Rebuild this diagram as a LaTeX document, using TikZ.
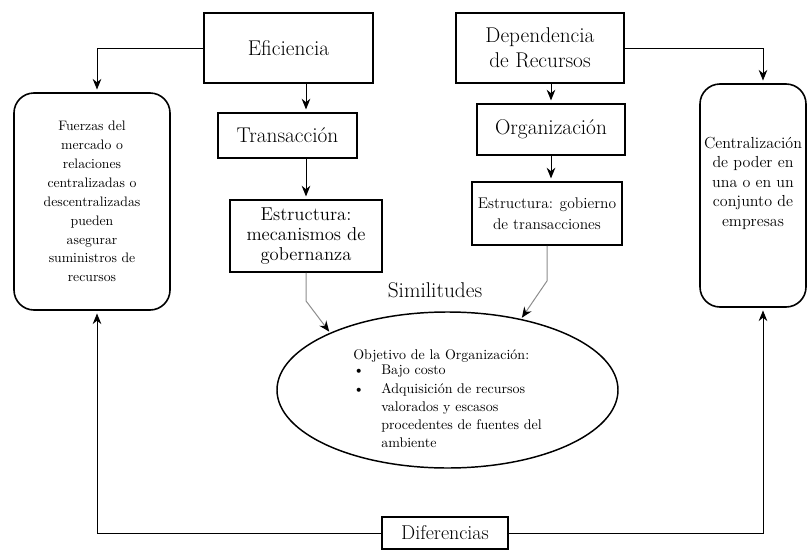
\documentclass[tikz,border=0pt]{standalone}
\usepackage{tikz}
\usetikzlibrary{shapes.geometric,arrows.meta,positioning,calc}

\begin{document}
\begin{tikzpicture}[
    x=0.75pt, y=-0.75pt,
    >={Stealth[length=8pt,width=6.5pt]},
    box/.style={rectangle, draw, line width=1.4pt, inner sep=0pt, align=center},
    roundbox/.style={rectangle, draw, rounded corners=15pt, line width=1.2pt, inner sep=0pt, align=center},
    oval/.style={ellipse, draw, line width=1.1pt, inner sep=0pt},
    arrow/.style={->, line width=0.75pt, shorten >=2pt},
    grayarrow/.style={-{Stealth[length=8pt,width=6.5pt,black]}, draw=black!45, line width=0.75pt, shorten >=1pt},
    big/.style={font=\fontsize{16}{19}\selectfont}
]
\useasboundingbox (0,0) rectangle (808,550);

% Eficiencia branch
\node[box, big, minimum width=126.75pt, minimum height=52.5pt] (eff) at (288.5,48) {Eficiencia};
\node[box, big, minimum width=104.25pt, minimum height=33.75pt] (trans) at (287.5,135.5) {Transacción};
\node[box, font=\fontsize{14}{15.2}\selectfont, minimum width=114pt, minimum height=54pt] (estr1) at (306,236) {Estructura:\\mecanismos de\\gobernanza};

% Dependencia branch
\node[box, big, minimum width=126pt, minimum height=52.5pt] (dep) at (540,48) {Dependencia\\de Recursos};
\node[box, big, minimum width=111pt, minimum height=38.25pt] (org) at (551,129.5) {Organización};
\node[box, font=\fontsize{11.6}{15.5}\selectfont, minimum width=112.5pt, minimum height=47.25pt] (estr2) at (547,213.5) {Estructura: gobierno\\de transacciones};

% Side boxes
\node[roundbox, font=\fontsize{10.3}{14.2}\selectfont, minimum width=117pt, minimum height=162.75pt] (left) at (92,201.5) {Fuerzas del\\mercado o\\relaciones\\centralizadas o\\descentralizadas\\pueden\\asegurar\\suministros de\\recursos};
\node[roundbox, font=\fontsize{12}{14.6}\selectfont, minimum width=79.5pt, minimum height=167.25pt] (right) at (753,195.5) {\raisebox{9pt}[\height][\depth]{\begin{tabular}{@{}c@{}}Centralización\\de poder en\\una o en un\\conjunto de\\empresas\end{tabular}}};

% Similitudes
\node[font=\fontsize{16}{19}\selectfont] (simil) at (435,290) {Similitudes};
\node[oval, font=\fontsize{10.5}{13.7}\selectfont, minimum width=255.75pt, minimum height=117pt] (obj) at (447.5,390) {\raisebox{-7.5pt}[\height][\depth]{\begin{tabular}{@{}p{21pt}@{}l@{}}
\multicolumn{2}{@{}l@{}}{Objetivo de la Organización:}\\[-2pt]
\textbullet & Bajo costo\\
\textbullet & Adquisición de recursos\\
 & valorados y escasos\\
 & procedentes de fuentes del\\
 & ambiente
\end{tabular}}};

% Diferencias
\node[box, line width=1.2pt, font=\fontsize{15}{18}\selectfont, minimum width=94.5pt, minimum height=24pt] (diff) at (445,533) {Diferencias};

% Arrows
\draw[arrow] (eff.west) -| ([xshift=3.75pt]left.north);
\draw[arrow] (dep.east) -| ([xshift=7.5pt]right.north);
\draw[arrow] (eff.south -| estr1.north) -- (trans.north -| estr1.north);
\draw[arrow] (trans.south -| estr1.north) -- (estr1.north);
\draw[arrow] (dep.south -| org.north) -- (org.north);
\draw[arrow] (org.south) -- (estr2.north -| org.south);
\draw[grayarrow] (estr1.south) -- ++(0,28) -- (obj.154);
\draw[grayarrow] (estr2.south) -- ++(0,35) -- (obj.44);
\draw[arrow] (diff.west) -| ([xshift=3.75pt]left.south);
\draw[arrow] (diff.east) -| ([xshift=7.5pt]right.south);

\end{tikzpicture}
\end{document}
